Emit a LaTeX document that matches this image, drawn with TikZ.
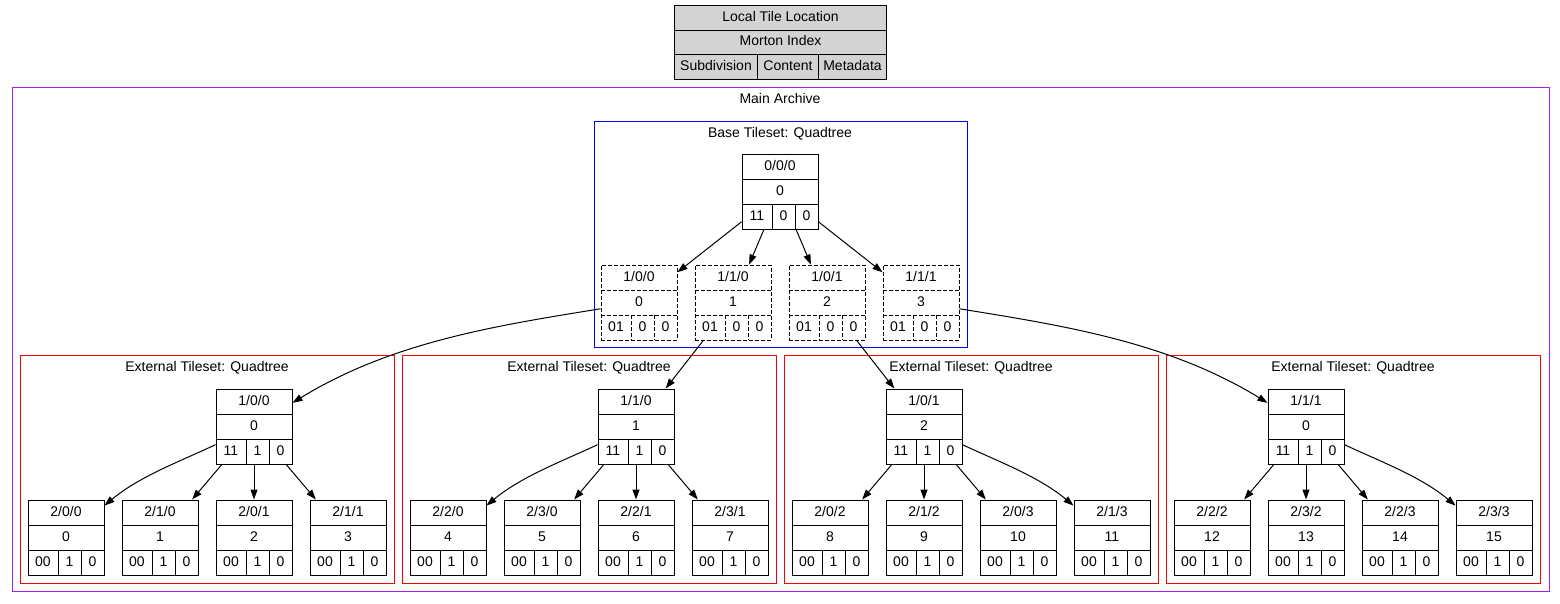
\documentclass[tikz,border=0pt]{standalone}
\usepackage{fontspec}
\setmainfont{Liberation Sans}
\usetikzlibrary{arrows.meta}
\definecolor{gvpurple}{HTML}{A020F0}
\definecolor{gvgrey}{HTML}{D3D3D3}
\tikzset{
  lbl/.style={inner sep=0pt,text height=10pt,text depth=3pt,font=\fontsize{14}{16}\selectfont},
  tilebox/.style={draw,rectangle,minimum width=76pt,minimum height=75pt,inner sep=0pt},
  solidtile/.style={line width=1pt},
  dashtile/.style={line width=1pt,dash pattern=on 4pt off 2pt},
  arr/.style={line width=1pt,-{Triangle[length=10pt,width=7pt]}},
  cluster/.style={line width=1pt},
}
\newcommand\tile[9]{%
  \node[tilebox,#4] (#1) at (#2+38,#3+37.5) {};
  \draw[#4] (#2,#3+25) -- ++(76,0) (#2,#3+50) -- ++(76,0)
            (#2+30,#3+50) -- ++(0,25) (#2+53,#3+50) -- ++(0,25);
  \node[lbl] (#1-t) at (#2+38,#3+12.5) {#5};
  \node[lbl] (#1-m) at (#2+38,#3+37.5) {#6};
  \node[lbl] (#1-a) at (#2+15,#3+62.5) {#7};
  \node[lbl] (#1-b) at (#2+41.5,#3+62.5) {#8};
  \node[lbl] (#1-c) at (#2+64.5,#3+62.5) {#9};
}
\begin{document}
\begin{tikzpicture}[x=1pt,y=-1pt]
\useasboundingbox (0,0) rectangle (1560,603);
\fill[white] (0,0) rectangle (1560,603);

% legend
\node[draw,fill=gvgrey,line width=1pt,minimum width=212pt,minimum height=74pt,inner sep=0pt] (legend) at (780.5,42) {};
\draw[line width=1pt] (674.5,30) -- (886.5,30) (674.5,54) -- (886.5,54)
  (757.5,54) -- (757.5,79) (818.5,54) -- (818.5,79);
\node[lbl] (lg-t) at (780.5,17.5) {Local Tile Location};
\node[lbl] (lg-m) at (780.5,42) {Morton Index};
\node[lbl] (lg-a) at (716,66.5) {Subdivision};
\node[lbl] (lg-b) at (788,66.5) {Content};
\node[lbl] (lg-c) at (852.5,66.5) {Metadata};

% clusters
\draw[cluster,draw=gvpurple] (12,87) rectangle (1549,591);
\node[lbl] (mainlbl) at (780,100) {Main Archive};
\draw[cluster,draw=blue] (594,121) rectangle (967,347);
\node[lbl] (baselbl) at (780,133.5) {Base Tileset: Quadtree};
\draw[cluster,draw=red] (20,355) rectangle (394,583);
\draw[cluster,draw=red] (402,355) rectangle (776,583);
\draw[cluster,draw=red] (784,355) rectangle (1158,583);
\draw[cluster,draw=red] (1166,355) rectangle (1540,583);
\node[lbl] (ext1lbl) at (207,368) {External Tileset: Quadtree};
\node[lbl] (ext2lbl) at (589,368) {External Tileset: Quadtree};
\node[lbl] (ext3lbl) at (971,368) {External Tileset: Quadtree};
\node[lbl] (ext4lbl) at (1353,368) {External Tileset: Quadtree};

% base tileset
\tile{root}{742}{154}{solidtile}{0/0/0}{0}{11}{0}{0}
\tile{b1}{601}{265}{dashtile}{1/0/0}{0}{01}{0}{0}
\tile{b2}{695}{265}{dashtile}{1/1/0}{1}{01}{0}{0}
\tile{b3}{789}{265}{dashtile}{1/0/1}{2}{01}{0}{0}
\tile{b4}{883}{265}{dashtile}{1/1/1}{3}{01}{0}{0}

% external tops
\tile{e1}{216}{389}{solidtile}{1/0/0}{0}{11}{1}{0}
\tile{e2}{598}{389}{solidtile}{1/1/0}{1}{11}{1}{0}
\tile{e3}{886}{389}{solidtile}{1/0/1}{2}{11}{1}{0}
\tile{e4}{1268}{389}{solidtile}{1/1/1}{0}{11}{1}{0}

% external children
\tile{c1a}{28}{500}{solidtile}{2/0/0}{0}{00}{1}{0}
\tile{c1b}{122}{500}{solidtile}{2/1/0}{1}{00}{1}{0}
\tile{c1c}{216}{500}{solidtile}{2/0/1}{2}{00}{1}{0}
\tile{c1d}{310}{500}{solidtile}{2/1/1}{3}{00}{1}{0}
\tile{c2a}{410}{500}{solidtile}{2/2/0}{4}{00}{1}{0}
\tile{c2b}{504}{500}{solidtile}{2/3/0}{5}{00}{1}{0}
\tile{c2c}{598}{500}{solidtile}{2/2/1}{6}{00}{1}{0}
\tile{c2d}{692}{500}{solidtile}{2/3/1}{7}{00}{1}{0}
\tile{c3a}{792}{500}{solidtile}{2/0/2}{8}{00}{1}{0}
\tile{c3b}{886}{500}{solidtile}{2/1/2}{9}{00}{1}{0}
\tile{c3c}{980}{500}{solidtile}{2/0/3}{10}{00}{1}{0}
\tile{c3d}{1074}{500}{solidtile}{2/1/3}{11}{00}{1}{0}
\tile{c4a}{1174}{500}{solidtile}{2/2/2}{12}{00}{1}{0}
\tile{c4b}{1268}{500}{solidtile}{2/3/2}{13}{00}{1}{0}
\tile{c4c}{1362}{500}{solidtile}{2/2/3}{14}{00}{1}{0}
\tile{c4d}{1456}{500}{solidtile}{2/3/3}{15}{00}{1}{0}

% base edges
\draw[arr] (root) -- (b1);
\draw[arr] (root) -- (b2);
\draw[arr] (root) -- (b3);
\draw[arr] (root) -- (b4);

% base to external
\draw[arr] (b1) .. controls (501,325) and (393,341) .. (e1);
\draw[arr] (b2) -- (e2);
\draw[arr] (b3) -- (e3);
\draw[arr] (b4) .. controls (1059,325) and (1167,341) .. (e4);

% external trees
\draw[arr] (e1) .. controls (181,461) and (140,476) .. (c1a);
\draw[arr] (e1) -- (c1b);
\draw[arr] (e1) -- (c1c);
\draw[arr] (e1) -- (c1d);

\draw[arr] (e2) .. controls (563,461) and (522,476) .. (c2a);
\draw[arr] (e2) -- (c2b);
\draw[arr] (e2) -- (c2c);
\draw[arr] (e2) -- (c2d);

\draw[arr] (e3) -- (c3a);
\draw[arr] (e3) -- (c3b);
\draw[arr] (e3) -- (c3c);
\draw[arr] (e3) .. controls (997,461) and (1038,476) .. (c3d);

\draw[arr] (e4) -- (c4a);
\draw[arr] (e4) -- (c4b);
\draw[arr] (e4) -- (c4c);
\draw[arr] (e4) .. controls (1379,461) and (1420,476) .. (c4d);
\end{tikzpicture}
\end{document}
